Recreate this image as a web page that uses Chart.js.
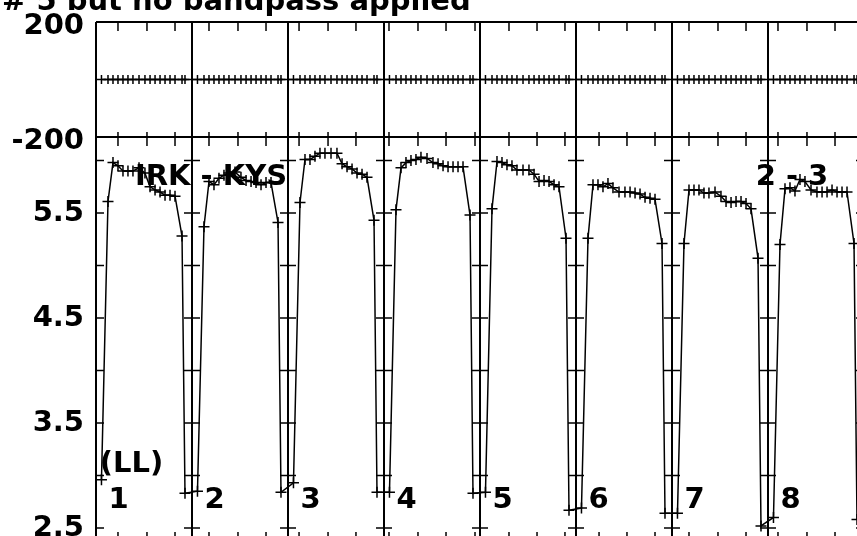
<!DOCTYPE html>
<html lang="en">
<head>
<meta charset="UTF-8">
<title># 5 but no bandpass applied</title>
<script src="https://cdn.jsdelivr.net/npm/chart.js"></script>
<style>
    html, body {
        margin: 0;
        padding: 0;
        overflow: hidden;
        background: #fff;
    }
    /* the plot frame runs a little past the right and bottom edges of the page */
    .page {
        width: 857px;
        height: 536px;
        overflow: hidden;
        position: relative;
    }
    canvas {
        display: block;
    }
</style>
</head>
<body>
<div class="page">
    <canvas id="visChart" width="864" height="541"></canvas>
</div>
<script>
// labels
const titleText = '# 5 but no bandpass applied';
const baselineText = 'IRK - KYS';
const polText = '(LL)';
const pageText = '2 - 3';
const antennas = ['1', '2', '3', '4', '5', '6', '7', '8'];

// time of each sample inside an antenna panel (fraction of the panel)
const scanOffsets = [0.057, 0.125, 0.177, 0.229, 0.281, 0.333, 0.385, 0.448, 0.51,
                     0.563, 0.615, 0.667, 0.719, 0.771, 0.823, 0.896, 0.927];

// amplitude per antenna
const ampAnt1 = [2.96, 5.61, 5.98, 5.95, 5.90, 5.90, 5.90, 5.93, 5.88, 5.75, 5.72, 5.70, 5.67, 5.67, 5.66, 5.28, 2.83];
const ampAnt2 = [2.85, 5.37, 5.80, 5.77, 5.83, 5.86, 5.88, 5.89, 5.84, 5.81, 5.80, 5.79, 5.77, 5.79, 5.79, 5.41, 2.84];
const ampAnt3 = [2.93, 5.60, 6.01, 6.01, 6.04, 6.07, 6.07, 6.07, 6.07, 5.97, 5.94, 5.92, 5.88, 5.87, 5.84, 5.43, 2.84];
const ampAnt4 = [2.84, 5.53, 5.93, 5.98, 6.00, 6.01, 6.03, 6.02, 5.98, 5.97, 5.95, 5.94, 5.94, 5.94, 5.94, 5.48, 2.83];
const ampAnt5 = [2.84, 5.54, 5.99, 5.98, 5.96, 5.95, 5.91, 5.91, 5.91, 5.87, 5.80, 5.81, 5.80, 5.77, 5.75, 5.26, 2.67];
const ampAnt6 = [2.69, 5.26, 5.77, 5.77, 5.75, 5.78, 5.74, 5.70, 5.70, 5.70, 5.69, 5.68, 5.65, 5.64, 5.63, 5.21, 2.64];
const ampAnt7 = [2.64, 5.21, 5.72, 5.72, 5.72, 5.69, 5.69, 5.70, 5.66, 5.61, 5.60, 5.61, 5.61, 5.59, 5.54, 5.07, 2.52];
const ampAnt8 = [2.60, 5.20, 5.73, 5.74, 5.71, 5.82, 5.80, 5.72, 5.70, 5.70, 5.70, 5.72, 5.70, 5.70, 5.70, 5.21, 2.58];
const ampByAntenna = [ampAnt1, ampAnt2, ampAnt3, ampAnt4, ampAnt5, ampAnt6, ampAnt7, ampAnt8];

// phase (degrees), flat for every antenna
const phaseDeg = [0, 0, 0, 0, 0, 0, 0, 0, 0, 0, 0, 0, 0, 0, 0, 0, 0];

// tick labels
const ampTickLabels = ['2.5', '3.5', '4.5', '5.5'];
const phaseTickLabels = ['-200', '200'];

// time ticks along the top/bottom borders (in panel units)
const timeTicks = [0.229, 0.531, 0.823, 1.177, 1.479, 1.771, 2.115, 2.417, 2.708,
                   3.052, 3.354, 3.646, 3.948, 4.302, 4.594, 4.885, 5.240, 5.531, 5.823,
                   6.177, 6.479, 6.771, 7.104, 7.406, 7.698];

const FONT = 'bold 29px "DejaVu Sans"';

const ampPoints = [];
const phasePoints = [];
ampByAntenna.forEach((amps, a) => {
    amps.forEach((v, i) => {
        ampPoints.push({ x: a + scanOffsets[i], y: v });
        phasePoints.push({ x: a + scanOffsets[i], y: phaseDeg[i] });
    });
});

// frame, panel dividers, tick marks and labels
const framePlugin = {
    id: 'frame',
    beforeDatasetsDraw(chart) {
        const { ctx, chartArea: area, scales } = chart;
        const x = scales.x, yAmp = scales.yAmp, yPhase = scales.yPhase;
        const mid = yPhase.bottom;
        ctx.save();
        ctx.strokeStyle = '#000';
        ctx.lineWidth = 2;
        ctx.beginPath();
        for (let k = 0; k <= antennas.length; k++) {
            const px = x.getPixelForValue(k);
            ctx.moveTo(px, area.top);
            ctx.lineTo(px, area.bottom);
        }
        [area.top, mid, area.bottom].forEach(py => {
            ctx.moveTo(area.left, py);
            ctx.lineTo(area.right, py);
        });
        ctx.stroke();

        ctx.lineWidth = 1.5;
        ctx.beginPath();
        yAmp.ticks.forEach(t => {
            const py = yAmp.getPixelForValue(t.value);
            for (let k = 0; k <= antennas.length; k++) {
                const px = x.getPixelForValue(k);
                ctx.moveTo(k === 0 ? px : px - 8, py);
                ctx.lineTo(k === antennas.length ? px : px + 8, py);
            }
        });
        timeTicks.forEach(v => {
            const px = x.getPixelForValue(v);
            ctx.moveTo(px, area.top);
            ctx.lineTo(px, area.top + 9);
            ctx.moveTo(px, mid - 5);
            ctx.lineTo(px, mid + 9);
            ctx.moveTo(px, area.bottom - 9);
            ctx.lineTo(px, area.bottom);
        });
        ctx.stroke();
        ctx.restore();
    },
    afterDatasetsDraw(chart) {
        const { ctx, scales } = chart;
        const x = scales.x, yAmp = scales.yAmp;
        ctx.save();
        ctx.fillStyle = '#000';
        ctx.font = FONT;
        ctx.textBaseline = 'alphabetic';
        ctx.textAlign = 'left';
        ctx.fillText(titleText, 2, 10);

        ctx.textAlign = 'center';
        const numY = yAmp.getPixelForValue(2.5) - 20;
        antennas.forEach((name, k) => {
            ctx.fillText(name, x.getPixelForValue(k) + 22.5, numY);
        });
        const labelY = yAmp.getPixelForValue(5.5) - 28;
        ctx.fillText(baselineText, x.getPixelForValue(1.198), labelY);
        ctx.fillText(pageText, x.getPixelForValue(7.25), labelY);
        ctx.fillText(polText, x.getPixelForValue(0.37), yAmp.getPixelForValue(3.5) + 49);
        ctx.restore();
    }
};

const fixedWidth = scale => {
    scale.width = 96;
    scale.paddingTop = 0;
    scale.paddingBottom = 0;
};

new Chart(document.getElementById('visChart').getContext('2d'), {
    type: 'scatter',
    data: {
        datasets: [{
            label: 'Amplitude',
            data: ampPoints,
            yAxisID: 'yAmp',
            showLine: true,
            borderColor: '#000',
            borderWidth: 1.5,
            pointStyle: 'cross',
            pointRadius: 5.5,
            pointBorderColor: '#000',
            pointBorderWidth: 1.5,
            tension: 0
        }, {
            label: 'Phase',
            data: phasePoints,
            yAxisID: 'yPhase',
            showLine: true,
            borderColor: '#000',
            borderWidth: 1.5,
            pointStyle: 'cross',
            pointRadius: 4.5,
            pointBorderColor: '#000',
            pointBorderWidth: 1.5,
            tension: 0
        }]
    },
    options: {
        responsive: false,
        animation: false,
        events: [],
        layout: { autoPadding: false, padding: { top: 22, left: 0, right: 0, bottom: 0 } },
        plugins: {
            legend: { display: false },
            tooltip: { enabled: false },
            title: { display: false }
        },
        scales: {
            x: {
                type: 'linear',
                min: 0,
                max: antennas.length,
                display: false
            },
            yAmp: {
                type: 'linear',
                position: 'left',
                stack: 'panels',
                stackWeight: 404,
                min: 2.376,
                max: 6.224,
                grid: { display: false, drawTicks: false },
                border: { display: false },
                ticks: {
                    stepSize: 0.5,
                    includeBounds: false,
                    autoSkip: false,
                    padding: 12,
                    color: '#000',
                    font: { family: 'DejaVu Sans', size: 29, weight: 'bold' },
                    callback: v => {
                        const s = Number(v).toFixed(1);
                        return ampTickLabels.includes(s) ? s : '';
                    }
                },
                afterFit: fixedWidth
            },
            yPhase: {
                type: 'linear',
                position: 'left',
                stack: 'panels',
                stackWeight: 115,
                min: -200,
                max: 200,
                grid: { display: false, drawTicks: false },
                border: { display: false },
                ticks: {
                    stepSize: 400,
                    autoSkip: false,
                    padding: 12,
                    labelOffset: 4,
                    color: '#000',
                    font: { family: 'DejaVu Sans', size: 29, weight: 'bold' },
                    callback: v => phaseTickLabels.includes(String(v)) ? String(v) : ''
                },
                afterFit: fixedWidth
            }
        }
    },
    plugins: [framePlugin]
});
</script>
</body>
</html>
